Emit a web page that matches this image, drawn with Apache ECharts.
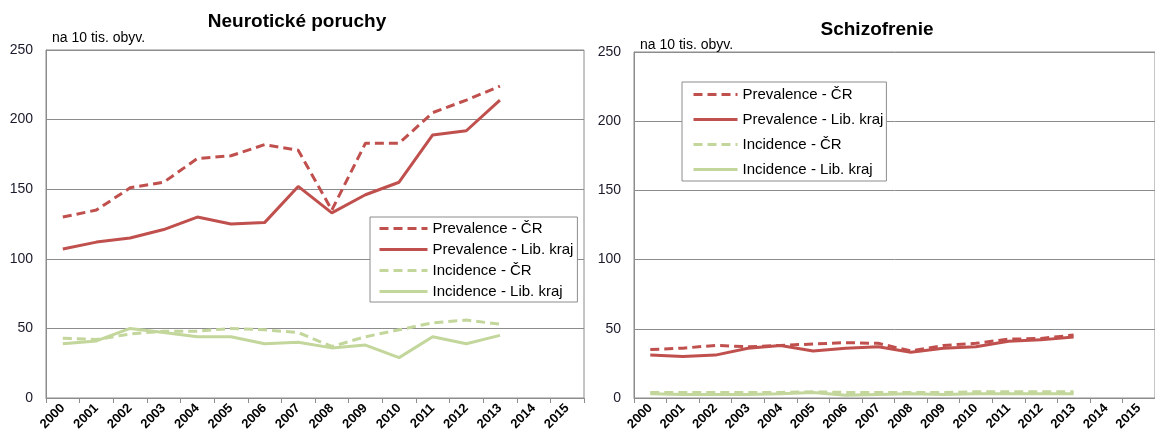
<!DOCTYPE html>
<html>
<head>
<meta charset="utf-8">
<script src="https://cdn.jsdelivr.net/npm/echarts@6/dist/echarts.min.js"></script>
<style>
html,body{margin:0;padding:0;background:#fff;}
#c{width:1155px;height:437px;}
</style>
</head>
<body>
<div id="c"></div>
<script>
const years = ['2000','2001','2002','2003','2004','2005','2006','2007','2008','2009','2010','2011','2012','2013','2014','2015'];
const yTicks = [0, 50, 100, 150, 200, 250];
const seriesNames = ['Prevalence - ČR', 'Prevalence - Lib. kraj', 'Incidence - ČR', 'Incidence - Lib. kraj'];

// Neurotické poruchy
const neuroPrevCR  = [130, 135, 151, 155, 172, 174, 182, 178, 135, 183, 183, 205, 214, 224];
const neuroPrevLib = [107, 112, 115, 121, 130, 125, 126, 152, 133, 146, 155, 189, 192, 214];
const neuroIncCR   = [43, 42, 46, 48, 48, 50, 49, 47, 37, 44, 49, 54, 56, 53];
const neuroIncLib  = [39, 41, 50, 47, 44, 44, 39, 40, 36, 38, 29, 44, 39, 45];

// Schizofrenie
const schizPrevCR  = [35, 36, 38, 37, 38, 39, 40, 39.5, 34, 38, 39.5, 42.5, 43, 45.5];
const schizPrevLib = [31, 30, 31, 36, 38, 34, 36, 37, 33, 36, 37, 41, 42, 44];
const schizIncCR   = [4, 4, 4, 4, 4, 4.5, 4, 4, 4, 4, 4.5, 4.5, 4.5, 4.5];
const schizIncLib  = [3, 2.5, 2.5, 2.5, 3, 4, 2, 2.5, 3, 2.5, 3, 3, 3, 3];

const RED = '#C0504D';
const GREEN = '#C3D69B';
const FONT = 'Liberation Sans, Arial, sans-serif';

function xAxis(gi) {
  return {
    type: 'category', gridIndex: gi, data: years, boundaryGap: true,
    axisLine: {lineStyle: {color: '#8c8c8c', width: 1}},
    axisTick: {show: true, length: 5, alignWithLabel: false, interval: 0, lineStyle: {color: '#8c8c8c'}},
    axisLabel: {interval: 0, rotate: 45, margin: 8, fontFamily: FONT, fontSize: 13, fontWeight: 'bold', color: '#000'}
  };
}
function yAxis(gi) {
  return {
    type: 'value', gridIndex: gi, min: yTicks[0], max: yTicks[yTicks.length - 1], interval: 50,
    axisLine: {show: true, lineStyle: {color: '#8c8c8c', width: 1}},
    axisTick: {show: false},
    splitLine: {show: true, lineStyle: {color: '#8c8c8c', width: 1}},
    axisLabel: {margin: 13, fontFamily: FONT, fontSize: 14, color: '#1a1a2a'}
  };
}
function line(name, data, color, dashed, gi) {
  return {
    name: name, type: 'line', xAxisIndex: gi, yAxisIndex: gi, data: data,
    symbol: 'none', showSymbol: false, smooth: false,
    lineStyle: {color: color, width: 3, type: dashed ? [9, 5] : 'solid'},
    itemStyle: {color: color},
    emphasis: {disabled: true}, animation: false
  };
}
function legend(left, top, pad, itemWidth, gap) {
  return {
    orient: 'vertical', left: left, top: top, data: seriesNames,
    icon: 'inherit',
    itemWidth: itemWidth, itemHeight: 14, itemGap: gap, padding: pad,
    backgroundColor: '#fff', borderColor: '#8c8c8c', borderWidth: 1,
    lineStyle: {width: 3},
    itemStyle: {opacity: 0},
    textStyle: {fontFamily: FONT, fontSize: 15, color: '#000'},
    selectedMode: false
  };
}

const chart = echarts.init(document.getElementById('c'), null, {renderer: 'canvas'});
chart.setOption({
  animation: false,
  backgroundColor: '#fff',
  grid: [
    {left: 46, top: 50, right: 571, bottom: 39, show: true, borderColor: '#8c8c8c', borderWidth: 1},
    {left: 634, top: 52, right: -5, bottom: 39, show: true, borderColor: '#8c8c8c', borderWidth: 1}
  ],
  xAxis: [xAxis(0), xAxis(1)],
  yAxis: [yAxis(0), yAxis(1)],
  legend: [
    legend(370, 217, [4, 4, 3, 8], 48, 6),
    legend(682, 82, [5, 3, 4, 10], 44, 10)
  ],
  graphic: [
    {type: 'text', x: 297, y: 22, style: {text: 'Neurotické poruchy', font: 'bold 19px ' + FONT, fill: '#000', align: 'center', verticalAlign: 'middle'}},
    {type: 'text', x: 877, y: 30, style: {text: 'Schizofrenie', font: 'bold 19px ' + FONT, fill: '#000', align: 'center', verticalAlign: 'middle'}},
    {type: 'text', x: 52, y: 38, style: {text: 'na 10 tis. obyv.', font: '14px ' + FONT, fill: '#000', align: 'left', verticalAlign: 'middle'}},
    {type: 'text', x: 640, y: 45, style: {text: 'na 10 tis. obyv.', font: '14px ' + FONT, fill: '#000', align: 'left', verticalAlign: 'middle'}}
  ],
  series: [
    line(seriesNames[0], neuroPrevCR, RED, true, 0),
    line(seriesNames[1], neuroPrevLib, RED, false, 0),
    line(seriesNames[2], neuroIncCR, GREEN, true, 0),
    line(seriesNames[3], neuroIncLib, GREEN, false, 0),
    line(seriesNames[0], schizPrevCR, RED, true, 1),
    line(seriesNames[1], schizPrevLib, RED, false, 1),
    line(seriesNames[2], schizIncCR, GREEN, true, 1),
    line(seriesNames[3], schizIncLib, GREEN, false, 1)
  ]
});
</script>
</body>
</html>
